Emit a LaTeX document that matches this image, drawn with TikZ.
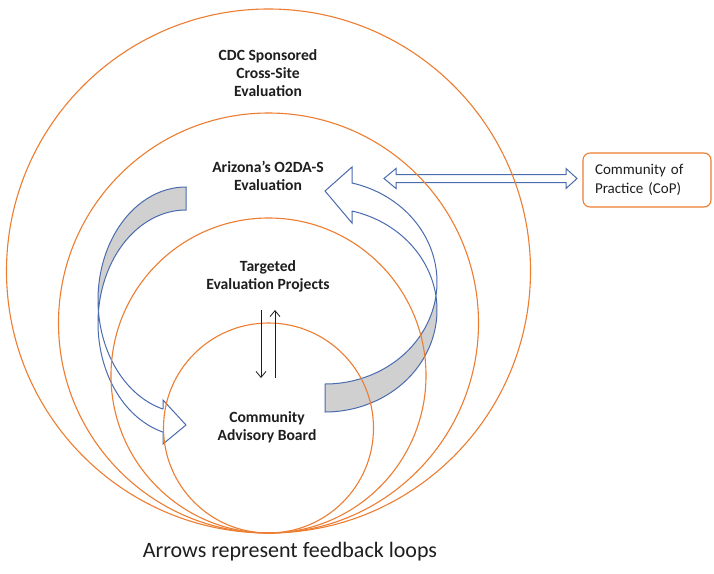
\documentclass[tikz,border=0pt]{standalone}
\usepackage{fontspec}
\setmainfont{Carlito}
\usetikzlibrary{arrows.meta}
\definecolor{orng}{HTML}{ED7D31}
\definecolor{blu}{HTML}{4A6BAE}
\definecolor{gry}{HTML}{D0D0D0}
\definecolor{ink}{HTML}{1E1E1E}
\begin{document}
\begin{tikzpicture}[x=1pt,y=-1pt,
  ring/.style={draw=orng,line width=1.1pt,circle,inner sep=0pt},
  blk/.style={draw=blu,line width=1pt,line join=miter},
  lbl/.style={font=\bfseries\fontsize{15.6}{17.8}\selectfont,align=center,text=ink,inner sep=0pt},
  copbox/.style={draw=orng,line width=1.1pt,rounded corners=7pt,text width=104pt,inner xsep=12pt,minimum height=54pt,align=left,font=\fontsize{15}{18.5}\selectfont,text=ink},
  thin/.style={draw=ink,line width=0.8pt,-{Straight Barb[length=6pt,width=10pt]}}]
\useasboundingbox (0,0) rectangle (714,573);
\fill[white] (0,0) rectangle (714,573);

% left curved arrow (back face)
\filldraw[blk,fill=gry] plot[domain=270:174.16,samples=60] ({186+88*cos(\x)},{300+113*sin(\x)})
  -- plot[domain=185.84:270,samples=60] ({186+88*cos(\x)},{323+113*sin(\x)}) -- cycle;
% left curved arrow (front face with head)
\filldraw[blk,fill=white] plot[domain=185.84:105.15,samples=60] ({186+88*cos(\x)},{323+113*sin(\x)})
  -- (163,444) -- (186,425) -- (163,400) -- (163,409.1)
  -- plot[domain=105.15:174.16,samples=60] ({186+88*cos(\x)},{300+113*sin(\x)}) -- cycle;

% right curved arrow (back face)
\filldraw[blk,fill=gry] plot[domain=7.89:90,samples=60] ({325+112*cos(\x)},{282+102*sin(\x)})
  -- plot[domain=90:-7.89,samples=60] ({325+112*cos(\x)},{310+102*sin(\x)}) -- cycle;
% right curved arrow (front face with head)
\filldraw[blk,fill=white] plot[domain=7.89:-76.05,samples=60] ({325+112*cos(\x)},{282+102*sin(\x)})
  -- (352,167) -- (325,191) -- (352,223) -- (352,211)
  -- plot[domain=-76.05:-7.89,samples=60] ({325+112*cos(\x)},{310+102*sin(\x)}) -- cycle;

% double arrow to CoP
\coordinate (dl) at (384,178.5);
\coordinate (dr) at (577,178.5);
\filldraw[blk,fill=white] (dl) -- ++(12,-10) -- ++(0,6) -- (566,174.5) -- (566,168.5) -- (dr)
  -- (566,188.5) -- (566,182.5) -- (396,182.5) -- (396,188.5) -- cycle;

% nested circles
\node[ring,minimum size=524pt] (c1) at (268.5,271) {};
\node[ring,minimum size=420pt] (c2) at (268.5,323) {};
\node[ring,minimum size=315pt] (c3) at (268.5,375.5) {};
\node[ring,minimum size=210pt] (c4) at (268.5,428) {};

% labels
\node[lbl] (t1) at (268,73) {CDC Sponsored\\Cross-Site\\Evaluation};
\node[lbl] (t2) at (268,175.5) {Arizona’s O2DA-S\\Evaluation};
\node[lbl] (t3) at (268,276.5) {Targeted\\Evaluation Projects};
\node[lbl] (t4) at (267,427) {Community\\Advisory Board};

\node[copbox] (cop) at (647,180) {Community of\\Practice (CoP)};

% thin arrows
\coordinate (da) at (261,310);
\coordinate (db) at (261,378);
\coordinate (ua) at (275,378);
\coordinate (ub) at (275,310);
\draw[thin] (da) -- (db);
\draw[thin] (ua) -- (ub);

\node[font=\fontsize{22}{26}\selectfont,text=ink,inner sep=0pt] (cap) at (290,552) {Arrows represent feedback loops};
\end{tikzpicture}
\end{document}
